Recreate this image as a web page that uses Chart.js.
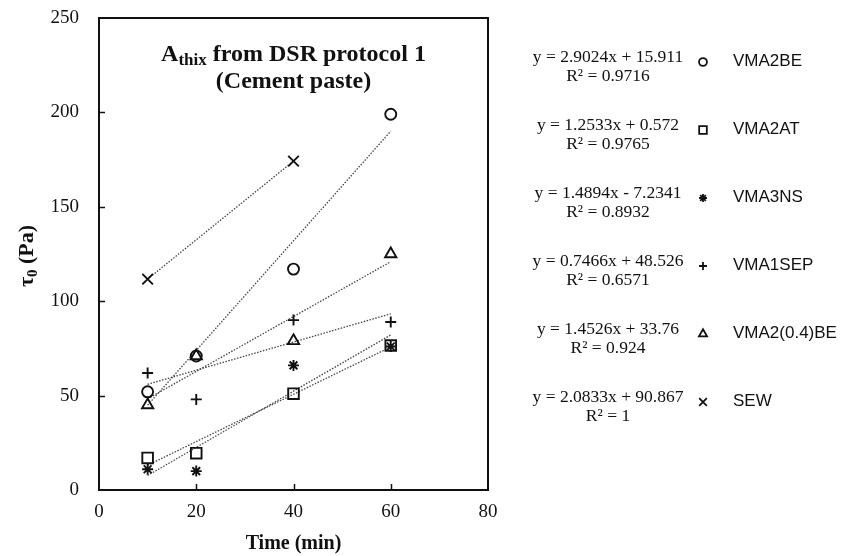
<!DOCTYPE html>
<html>
<head>
<meta charset="utf-8">
<script src="https://cdn.jsdelivr.net/npm/chart.js@4/dist/chart.umd.min.js"></script>
<style>
  body { margin: 0; background: #fff; }
  #wrap { width: 845px; height: 556px; position: relative; }
</style>
</head>
<body>
<div id="wrap"><canvas id="thixChart"></canvas></div>
<script>
// sampling times (min)
const times = [10, 20, 40, 60];
const sewTimes = [10, 40];

// yield stress tau0 (Pa) per mix
const vma2be   = [52, 71, 117, 199];
const vma2at   = [17, 19.5, 51, 76.5];
const vma3ns   = [11, 10, 66, 76];
const vma1sep  = [62, 48, 90, 89];
const vma204be = [45, 71, 79, 125];
const sew      = [111.7, 174.2];

const seriesNames = ['VMA2BE', 'VMA2AT', 'VMA3NS', 'VMA1SEP', 'VMA2(0.4)BE', 'SEW'];
const seriesX = [times, times, times, times, times, sewTimes];
const seriesY = [vma2be, vma2at, vma3ns, vma1sep, vma204be, sew];

// linear trendlines
const slopes     = [2.9024, 1.2533, 1.4894, 0.7466, 1.4526, 2.0833];
const intercepts = [15.911, 0.572, -7.2341, 48.526, 33.76, 90.867];
const rSquared   = [0.9716, 0.9765, 0.8932, 0.6571, 0.924, 1];

const xTicks = [0, 20, 40, 60, 80];
const yTicks = [0, 50, 100, 150, 200, 250];

const markers = ['circle', 'rect', 'star', 'cross', 'triangle', 'crossRot'];
const markerRadius = [5.5, 7.5, 5.5, 5.5, 6.5, 7.5];

const serif = "'Liberation Serif', 'Times New Roman', serif";
const sans = "'Liberation Sans', Arial, sans-serif";

let datasets = [];
for (let i = 0; i < seriesNames.length; i++) {
  let xs = seriesX[i];
  let x0 = xs[0], x1 = xs[xs.length - 1];
  datasets.push({
    type: 'line',
    label: seriesNames[i] + ' trend',
    data: [{x: x0, y: slopes[i] * x0 + intercepts[i]}, {x: x1, y: slopes[i] * x1 + intercepts[i]}],
    borderColor: '#444',
    borderWidth: 1.3,
    borderDash: [1.5, 1.5],
    pointRadius: 0,
    fill: false,
    order: 2
  });
}
for (let i = 0; i < seriesNames.length; i++) {
  datasets.push({
    type: 'scatter',
    label: seriesNames[i],
    data: seriesX[i].map((x, j) => ({x: x, y: seriesY[i][j]})),
    pointStyle: markers[i],
    pointRadius: markerRadius[i],
    pointBorderColor: '#111',
    pointBackgroundColor: 'rgba(0,0,0,0)',
    pointBorderWidth: 1.9,
    order: 1
  });
}

// frame, inside ticks, title and y label with subscripts, equation legend
const decorations = {
  id: 'decorations',
  afterDraw(chart) {
    const ctx = chart.ctx;
    const a = chart.chartArea;
    const xs = chart.scales.x, ys = chart.scales.y;
    ctx.save();
    ctx.strokeStyle = '#111';
    ctx.lineWidth = 2;
    ctx.strokeRect(a.left, a.top, a.right - a.left, a.bottom - a.top);
    ctx.lineWidth = 1.5;
    ctx.beginPath();
    xTicks.slice(1, -1).forEach(v => {
      let px = Math.round(xs.getPixelForValue(v)) + 0.5;
      ctx.moveTo(px, a.bottom); ctx.lineTo(px, a.bottom - 6);
    });
    yTicks.slice(1, -1).forEach(v => {
      let py = Math.round(ys.getPixelForValue(v)) + 0.5;
      ctx.moveTo(a.left, py); ctx.lineTo(a.left + 6, py);
    });
    ctx.stroke();

    // chart title
    ctx.fillStyle = '#111';
    ctx.textBaseline = 'alphabetic';
    const cx = (a.left + a.right) / 2;
    const big = 'bold 24px ' + serif, small = 'bold 17px ' + serif;
    ctx.font = big;
    let wA = ctx.measureText('A').width;
    let wRest = ctx.measureText(' from DSR protocol 1').width;
    ctx.font = small;
    let wSub = ctx.measureText('thix').width;
    let x = cx - (wA + wSub + wRest) / 2;
    let base = 61;
    ctx.textAlign = 'left';
    ctx.font = big; ctx.fillText('A', x, base);
    ctx.font = small; ctx.fillText('thix', x + wA, base + 4);
    ctx.font = big; ctx.fillText(' from DSR protocol 1', x + wA + wSub, base);
    ctx.textAlign = 'center';
    ctx.fillText('(Cement paste)', cx, base + 27);

    // y axis title
    ctx.save();
    ctx.translate(33, 256);
    ctx.rotate(-Math.PI / 2);
    const yBig = 'bold 22px ' + serif, ySmall = 'bold 15px ' + serif;
    ctx.font = yBig;
    let wT = ctx.measureText('τ').width, wP = ctx.measureText(' (Pa)').width;
    ctx.font = ySmall;
    let w0 = ctx.measureText('0').width;
    let sx = -(wT + w0 + wP) / 2;
    ctx.textAlign = 'left';
    ctx.font = yBig; ctx.fillText('τ', sx, 0);
    ctx.font = ySmall; ctx.fillText('0', sx + wT, 4);
    ctx.font = yBig; ctx.fillText(' (Pa)', sx + wT + w0, 0);
    ctx.restore();

    // legend with trendline equations
    for (let i = 0; i < seriesNames.length; i++) {
      let rowY = 61 + i * 68;
      let b = intercepts[i];
      let eq = 'y = ' + slopes[i] + 'x ' + (b < 0 ? '- ' : '+ ') + Math.abs(b);
      ctx.font = '17.5px ' + serif;
      ctx.textAlign = 'center';
      ctx.textBaseline = 'middle';
      ctx.fillText(eq, 608, rowY - 4);
      ctx.fillText('R² = ' + rSquared[i], 608, rowY + 15);
      ctx.strokeStyle = '#111';
      ctx.fillStyle = 'rgba(0,0,0,0)';
      ctx.lineWidth = 1.8;
      Chart.helpers.drawPoint(ctx, {pointStyle: markers[i], rotation: 0, radius: markerRadius[i] * 0.72, borderWidth: 1.8}, 703, rowY + 1);
      ctx.fillStyle = '#111';
      ctx.font = '17px ' + sans;
      ctx.textAlign = 'left';
      ctx.fillText(seriesNames[i], 733, rowY);
    }
    ctx.restore();
  }
};

new Chart(document.getElementById('thixChart'), {
  type: 'scatter',
  data: { datasets: datasets },
  options: {
    responsive: true,
    maintainAspectRatio: false,
    animation: false,
    devicePixelRatio: 1,
    layout: { autoPadding: false, padding: { top: 18, right: 357, left: 0, bottom: 0 } },
    plugins: {
      legend: { display: false },
      tooltip: { enabled: false }
    },
    scales: {
      x: {
        type: 'linear',
        min: 0, max: 80,
        afterBuildTicks: s => { s.ticks = xTicks.map(v => ({value: v})); },
        afterFit: s => { s.height = 66; s.paddingLeft = 0; s.paddingRight = 0; },
        ticks: { color: '#111', font: { family: serif, size: 19 }, padding: 11, maxRotation: 0 },
        grid: { drawOnChartArea: false, drawTicks: false },
        border: { color: '#111', width: 2 },
        title: { display: true, text: 'Time (min)', color: '#111', font: { family: serif, size: 20, weight: 'bold' }, padding: { top: 10, bottom: 0 } }
      },
      y: {
        min: 0, max: 250,
        afterBuildTicks: s => { s.ticks = yTicks.map(v => ({value: v})); },
        afterFit: s => { s.width = 99; s.paddingTop = 0; s.paddingBottom = 0; },
        ticks: { color: '#111', font: { family: serif, size: 19 }, padding: 20 },
        grid: { drawOnChartArea: false, drawTicks: false },
        border: { color: '#111', width: 2 }
      }
    }
  },
  plugins: [decorations]
});
</script>
</body>
</html>
